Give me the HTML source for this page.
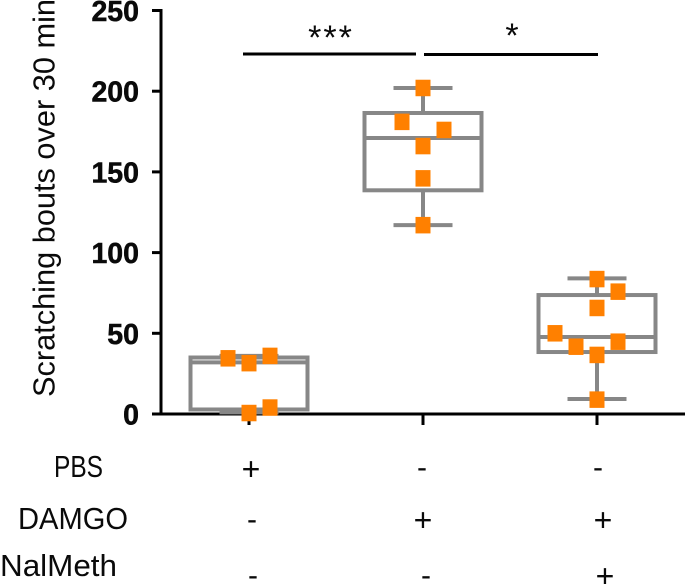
<!DOCTYPE html>
<html lang="en">
<head>
<meta charset="utf-8">
<title>Scratching bouts box plot</title>
<style>
html,body{margin:0;padding:0;background:#fff;width:685px;height:584px;overflow:hidden}
svg{display:block}
text{font-family:"Liberation Sans",sans-serif;fill:#0a0a0a}
</style>
</head>
<body>
<svg id="chart" width="685" height="584" viewBox="0 0 685 584" xmlns="http://www.w3.org/2000/svg">
  <text transform="translate(54.5,397) rotate(-90)" font-size="31" textLength="398" lengthAdjust="spacingAndGlyphs">Scratching bouts over 30 min</text>
  <g id="axes"></g>
  <g id="marks"></g>

  <line x1="243" y1="54" x2="416" y2="54" stroke="#000" stroke-width="3"/>
  <line x1="424" y1="54.5" x2="598" y2="54.5" stroke="#000" stroke-width="3"/>
  <text x="331" y="49" font-size="34" letter-spacing="2" text-anchor="middle">***</text>
  <text x="512" y="47" font-size="34" text-anchor="middle">*</text>

  <text x="54" y="477" font-size="31" textLength="49" lengthAdjust="spacingAndGlyphs">PBS</text>
  <text x="18" y="529" font-size="31" textLength="110" lengthAdjust="spacingAndGlyphs">DAMGO</text>
  <text x="0" y="576" font-size="31" textLength="117" lengthAdjust="spacingAndGlyphs">NalMeth</text>

  <text x="251" y="480" font-size="32" text-anchor="middle">+</text>
  <text x="422" y="477" font-size="30" text-anchor="middle">-</text>
  <text x="598" y="477" font-size="30" text-anchor="middle">-</text>
  <text x="252" y="529" font-size="30" text-anchor="middle">-</text>
  <text x="423" y="531" font-size="32" text-anchor="middle">+</text>
  <text x="603" y="531" font-size="32" text-anchor="middle">+</text>
  <text x="253" y="585" font-size="30" text-anchor="middle">-</text>
  <text x="426" y="585" font-size="30" text-anchor="middle">-</text>
  <text x="605" y="587" font-size="32" text-anchor="middle">+</text>
</svg>
<script>
const categories = ['PBS', 'DAMGO', 'DAMGO + NalMeth'];
const yTickLabels = [0, 50, 100, 150, 200, 250];
const whiskerLow = [1, 117, 9.3];
const quartile1 = [2.8, 138.6, 38.4];
const medians = [32, 171, 47.7];
const quartile3 = [35, 186.5, 73.7];
const whiskerHigh = [36, 202, 84];
const pointValuesPbs = [34.5, 31.5, 36, 0.6, 4];
const pointColumnsPbs = [-1, 0, 1, 0, 1];
const pointValuesDamgo = [202, 181, 176, 166, 146, 117];
const pointColumnsDamgo = [0, -1, 1, 0, 0, 0];
const pointValuesNalMeth = [83.6, 75.8, 65.7, 50, 41.7, 44.8, 36.6, 8.9];
const pointColumnsNalMeth = [0, 1, 0, -2, -1, 1, 0, 0];

const NS = 'http://www.w3.org/2000/svg';
const axes = document.getElementById('axes');
const marks = document.getElementById('marks');

function yScale(v) { return 414 - v * 1.614; }
function xScale(i) { return 249 + i * 174; }
function columnX(i, col) { return xScale(i) + col * 21; }

function strokeLine(x1, y1, x2, y2, color, width) {
  const l = document.createElementNS(NS, 'line');
  l.setAttribute('x1', x1);
  l.setAttribute('y1', y1);
  l.setAttribute('x2', x2);
  l.setAttribute('y2', y2);
  l.setAttribute('stroke', color);
  l.setAttribute('stroke-width', width);
  return l;
}

const yAxisLine = strokeLine(161, yScale(250) - 1.5, 161, yScale(0) + 1.5, '#000', 3);


axes.appendChild(yAxisLine);

const xAxisLine = strokeLine(152, yScale(0), 685, yScale(0), '#000', 3);


axes.appendChild(xAxisLine);

yTickLabels.forEach(function (v) {
  const tick = strokeLine(152, yScale(v), 161, yScale(v), '#000', 3);
  
  
  axes.appendChild(tick);

  const label = document.createElementNS(NS, 'text');
  
  
  label.setAttribute('x', 139);
  label.setAttribute('y', yScale(v) + 10.5);
  label.setAttribute('font-size', 28.5);
  label.setAttribute('font-weight', 'bold');
  label.setAttribute('text-anchor', 'end');
  label.setAttribute('stroke', '#0a0a0a');
  label.setAttribute('stroke-width', 0.5);
  label.textContent = v;
  axes.appendChild(label);
});

categories.forEach(function (c, i) {
  const tick = strokeLine(xScale(i), yScale(0), xScale(i), yScale(0) + 11, '#000', 3);
  
  
  axes.appendChild(tick);
});

const groupValues = [pointValuesPbs, pointValuesDamgo, pointValuesNalMeth];
const groupColumns = [pointColumnsPbs, pointColumnsDamgo, pointColumnsNalMeth];
const GRAY = '#878787';

categories.forEach(function (c, i) {
  const cx = xScale(i);
  const g = document.createElementNS(NS, 'g');
  
  
  marks.appendChild(g);

  const upperWhisker = strokeLine(cx, yScale(quartile3[i]), cx, yScale(whiskerHigh[i]), GRAY, 4);
  
  
  g.appendChild(upperWhisker);

  const lowerWhisker = strokeLine(cx, yScale(quartile1[i]), cx, yScale(whiskerLow[i]), GRAY, 4);
  
  
  g.appendChild(lowerWhisker);

  const upperCap = strokeLine(cx - 29.5, yScale(whiskerHigh[i]), cx + 29.5, yScale(whiskerHigh[i]), GRAY, 4);
  
  
  g.appendChild(upperCap);

  const lowerCap = strokeLine(cx - 29.5, yScale(whiskerLow[i]), cx + 29.5, yScale(whiskerLow[i]), GRAY, 4);
  
  
  g.appendChild(lowerCap);

  const box = document.createElementNS(NS, 'rect');
  
  
  box.setAttribute('x', cx - 58.5);
  box.setAttribute('y', yScale(quartile3[i]));
  box.setAttribute('width', 117);
  box.setAttribute('height', yScale(quartile1[i]) - yScale(quartile3[i]));
  box.setAttribute('fill', 'none');
  box.setAttribute('stroke', GRAY);
  box.setAttribute('stroke-width', 4);
  g.appendChild(box);

  const median = strokeLine(cx - 57, yScale(medians[i]), cx + 57, yScale(medians[i]), GRAY, 4);
  
  
  g.appendChild(median);

  groupValues[i].forEach(function (v, k) {
    const p = document.createElementNS(NS, 'rect');
    
    
    p.setAttribute('x', columnX(i, groupColumns[i][k]) - 7.5);
    p.setAttribute('y', yScale(v) - 8.25);
    p.setAttribute('width', 15);
    p.setAttribute('height', 16.5);
    p.setAttribute('fill', '#ff8000');
    g.appendChild(p);
  });
});
</script>
</body>
</html>
